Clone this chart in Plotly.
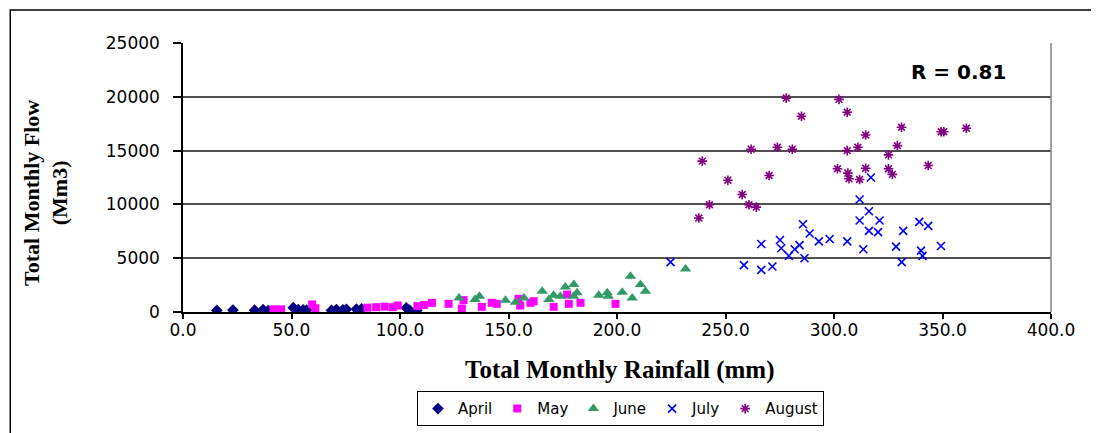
import plotly.graph_objects as go

# ---- data (rainfall mm, flow Mm3) ----
april_rain = [15.6, 23.0, 33.0, 36.9, 39.2, 50.8, 53.1, 55.4, 57.0, 68.4, 70.7, 73.7, 75.3, 79.9, 82.3, 102.9, 104.4, 107.8]
april_flow = [150, 180, 170, 220, 120, 400, 230, 200, 180, 150, 230, 200, 250, 260, 300, 380, 170, 150]

may_rain = [41.7, 45.2, 59.5, 61.0, 85.0, 89.0, 92.9, 96.7, 99.0, 108.0, 111.0, 114.7, 122.4, 128.5, 129.3,
            137.7, 142.3, 144.6, 154.6, 155.4, 160.1, 161.6, 170.8, 177.0, 177.8, 183.2, 199.3]
may_flow = [250, 250, 700, 350, 400, 450, 500, 450, 600, 550, 650, 850, 760, 320, 1100,
            480, 850, 760, 1220, 600, 850, 1000, 480, 1620, 760, 850, 760]

june_rain = [127.2, 134.6, 136.6, 148.6, 153.2, 157.1, 165.5, 168.6, 170.8, 173.9, 176.2, 180.1, 180.0,
             181.6, 191.6, 195.5, 196.0, 202.4, 206.2, 207.0, 210.8, 213.1, 231.6]
june_flow = [1310, 1160, 1460, 1090, 910, 1310, 1930, 1160, 1560, 1460, 2330, 2550, 1460,
             1780, 1560, 1780, 1460, 1840, 3320, 1310, 2550, 1930, 4000]

july_rain = [224.7, 258.5, 266.5, 266.5, 271.6, 275.1, 275.7, 279.2, 281.9, 284.1, 285.7, 286.4, 288.8,
             293.0, 298.0, 306.1, 311.8, 313.5, 316.1, 311.8, 321.0, 316.1, 320.3, 328.6, 331.2, 331.9,
             339.3, 340.1, 340.8, 343.4, 349.3, 317.0]
july_flow = [4630, 4350, 6320, 3920, 4230, 6690, 5920, 5210, 5830, 6220, 8160, 5000, 7300,
             6570, 6780, 6570, 10460, 5830, 9360, 8500, 8500, 7540, 7420, 6070, 4630, 7540,
             8370, 5700, 5210, 8000, 6130, 12500]

aug_rain = [237.7, 242.6, 251.1, 257.7, 260.8, 264.2, 239.3, 261.8, 270.1, 273.9, 278.0, 280.8, 285.0,
            301.6, 302.3, 306.1, 306.1, 306.4, 306.9, 311.0, 311.8, 314.6, 314.6, 325.1, 325.1, 326.9,
            329.2, 331.1, 343.4, 349.4, 350.6, 361.0]
aug_flow = [8740, 9970, 12250, 10920, 9970, 9750, 14020, 15130, 12690, 15310, 19880, 15130, 18190,
            13310, 19760, 18560, 15000, 12910, 12380, 15310, 12310, 16450, 13360, 14600, 13310, 12790,
            15460, 17170, 13610, 16750, 16750, 17080]

x_ticks = [0, 50, 100, 150, 200, 250, 300, 350, 400]
y_ticks = [0, 5000, 10000, 15000, 20000, 25000]

fig = go.Figure()
fig.add_trace(go.Scatter(x=april_rain, y=april_flow, mode="markers", name="April",
                         marker=dict(symbol="diamond", size=9, color="#000080")))
fig.add_trace(go.Scatter(x=may_rain, y=may_flow, mode="markers", name="May",
                         marker=dict(symbol="square", size=8, color="#FF00FF")))
fig.add_trace(go.Scatter(x=june_rain, y=june_flow, mode="markers", name="June",
                         marker=dict(symbol="triangle-up", size=10, color="#339966")))
fig.add_trace(go.Scatter(x=july_rain, y=july_flow, mode="markers", name="July",
                         marker=dict(symbol="x-thin-open", size=8, color="#0000FF",
                                     line=dict(width=1.6, color="#0000FF"))))
fig.add_trace(go.Scatter(x=aug_rain, y=aug_flow, mode="markers", name="August",
                         marker=dict(symbol="asterisk-open", size=8, color="#800080",
                                     line=dict(width=1.6, color="#800080"))))

tickfont = dict(family="DejaVu Sans", size=17, color="black")
fig.update_layout(
    width=1091, height=433,
    margin=dict(l=175, r=48, t=35, b=129, autoexpand=False),
    paper_bgcolor="white", plot_bgcolor="white",
    showlegend=True,
    legend=dict(orientation="h", x=0.504, xanchor="center", y=-0.295, yanchor="top",
                bordercolor="black", borderwidth=1, font=dict(family="DejaVu Sans", size=15, color="black"),
                itemwidth=30, tracegroupgap=0),
    xaxis=dict(range=[0, 400], tickvals=x_ticks, ticktext=[f"{v:.1f}" for v in x_ticks],
               showgrid=False, zeroline=False, showline=True, linecolor="black", linewidth=1.5,
               ticks="outside", ticklen=5, tickcolor="black", tickwidth=1.5, tickfont=tickfont,
               ticklabelstandoff=-3, automargin=False),
    yaxis=dict(range=[0, 25000], tickvals=y_ticks, ticktext=[str(v) for v in y_ticks],
               showgrid=True, gridcolor="#505050", gridwidth=1.5, zeroline=False,
               showline=True, linecolor="black", linewidth=1.5,
               ticks="outside", ticklen=8, tickcolor="black", tickwidth=1.5, tickfont=tickfont,
               ticklabelstandoff=10, automargin=False),
    annotations=[
        dict(text="R = 0.81", xref="paper", yref="paper", x=0.894, y=0.892, showarrow=False,
             xanchor="center", yanchor="middle",
             font=dict(family="DejaVu Sans", size=20, color="black", weight="bold")),
        dict(text="Total Monthly Rainfall (mm)", xref="paper", yref="paper", x=0.504, y=-0.216,
             xanchor="center", yanchor="middle",
             showarrow=False, font=dict(family="Liberation Serif", size=25, color="black", weight="bold")),
        dict(text="Total Monthly Flow<br>(Mm3)", xref="paper", yref="paper", x=-0.158, y=0.442,
             xanchor="center", yanchor="middle",
             textangle=-90, showarrow=False,
             font=dict(family="Liberation Serif", size=22, color="black", weight="bold")),
    ],
    shapes=[
        dict(type="rect", xref="paper", yref="paper", x0=-0.199, x1=1.052, y0=-0.5, y1=1.123,
             line=dict(color="black", width=1.5), fillcolor="rgba(0,0,0,0)", layer="below"),
        dict(type="line", xref="paper", yref="paper", x0=1, x1=1, y0=0, y1=1,
             line=dict(color="#808080", width=1.5)),
    ],
)

fig.write_html("out.html")
